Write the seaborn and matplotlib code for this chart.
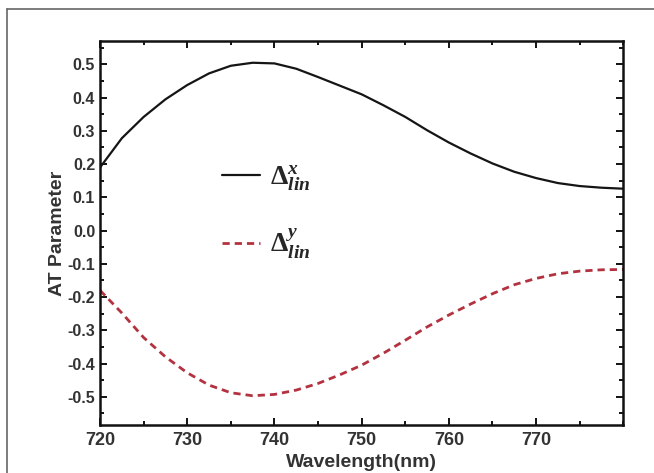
import matplotlib
matplotlib.use("Agg")
import matplotlib.pyplot as plt
from matplotlib.lines import Line2D
from matplotlib.ticker import MultipleLocator, FormatStrFormatter
import seaborn as sns
import pandas as pd

wavelength = [720, 722.5, 725, 727.5, 730, 732.5, 735, 737.5, 740, 742.5, 745, 747.5,
              750, 752.5, 755, 757.5, 760, 762.5, 765, 767.5, 770, 772.5, 775, 777.5, 780]
delta_x = [0.19, 0.278, 0.342, 0.395, 0.438, 0.473, 0.496, 0.505, 0.503, 0.487, 0.462, 0.436,
           0.41, 0.377, 0.342, 0.302, 0.265, 0.232, 0.202, 0.177, 0.158, 0.143, 0.134, 0.129, 0.126]
delta_y = [-0.18, -0.248, -0.322, -0.38, -0.428, -0.465, -0.488, -0.497, -0.493, -0.48, -0.46, -0.434,
           -0.405, -0.369, -0.33, -0.29, -0.254, -0.221, -0.19, -0.163, -0.144, -0.13, -0.122, -0.118, -0.117]
x_ticks = [720, 730, 740, 750, 760, 770]
y_ticks = [-0.5, -0.4, -0.3, -0.2, -0.1, 0.0, 0.1, 0.2, 0.3, 0.4, 0.5]

sns.set_style("ticks")
plt.rcParams["font.family"] = ["Liberation Sans", "DejaVu Sans"]
plt.rcParams["mathtext.fontset"] = "custom"
plt.rcParams["mathtext.rm"] = "Liberation Serif:bold"
plt.rcParams["mathtext.it"] = "Liberation Serif:italic:bold"
plt.rcParams["mathtext.bf"] = "Liberation Serif:bold"

df = pd.DataFrame({"wavelength": wavelength, "dx": delta_x, "dy": delta_y})

fig = plt.figure(figsize=(6.54, 4.73), dpi=100)
ax = fig.add_axes([0.153, 0.1015, 0.8, 0.8115])

sns.lineplot(data=df, x="wavelength", y="dx", ax=ax, color="#151515", linewidth=1.6,
             label=r"$\mathbf{\Delta}^{x}_{lin}$")
sns.lineplot(data=df, x="wavelength", y="dy", ax=ax, color="#b3323f", linewidth=2.0,
             linestyle=(0, (2.6, 1.8)), label=r"$\mathbf{\Delta}^{y}_{lin}$")

ax.set_xlim(720, 780)
ax.set_ylim(-0.585, 0.57)
ax.set_xticks(x_ticks)
ax.set_yticks(y_ticks)
ax.xaxis.set_minor_locator(MultipleLocator(5))
ax.yaxis.set_minor_locator(MultipleLocator(0.05))
ax.yaxis.set_major_formatter(FormatStrFormatter("%.1f"))
ax.tick_params(which="both", direction="in", top=True, right=True, width=1.4, colors="#111111")
ax.tick_params(which="major", length=5)
ax.tick_params(which="minor", length=3)
ax.tick_params(axis="x", which="major", labelsize=13, pad=5)
ax.tick_params(axis="y", which="major", labelsize=11.5)
for lab in ax.get_xticklabels() + ax.get_yticklabels():
    lab.set_fontweight("bold")
    lab.set_color("#333333")
for sp in ax.spines.values():
    sp.set_linewidth(1.8)
    sp.set_color("#111111")

ax.set_xlabel("Wavelength(nm)", fontsize=14, fontweight="bold", color="#333333", labelpad=4)
ax.set_ylabel("AT Parameter", fontsize=14, fontweight="bold", color="#333333", labelpad=1)

leg = ax.legend(loc="upper left", bbox_to_anchor=(0.233, 0.681), frameon=False,
                fontsize=20, handlelength=1.37, labelspacing=1.2, handletextpad=0.36,
                borderpad=0, borderaxespad=0)

# grey frame of the source image (left and top edges)
fig.add_artist(Line2D([0.011, 0.011], [0.0, 0.981], color="#666666", linewidth=1.2,
                      transform=fig.transFigure))
fig.add_artist(Line2D([0.011, 1.0], [0.981, 0.981], color="#666666", linewidth=1.2,
                      transform=fig.transFigure))

fig.savefig("out.png", dpi=100)
